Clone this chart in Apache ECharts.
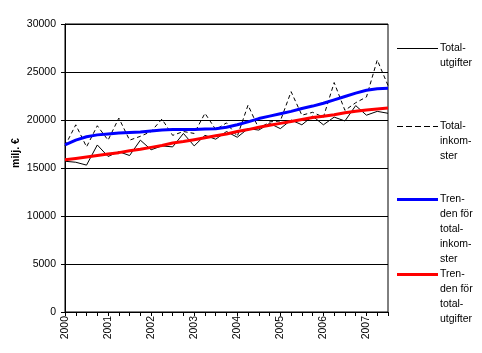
<!DOCTYPE html>
<html>
<head>
<meta charset="utf-8">
<script src="https://cdn.jsdelivr.net/npm/echarts@6/dist/echarts.min.js"></script>
<style>
  html, body { margin: 0; padding: 0; background: #fff; }
  #chart { width: 482px; height: 353px; }
</style>
</head>
<body>
<div id="chart"></div>
<script>
// kvartal 2000Q1 .. 2007Q3
const years = ['2000', '2001', '2002', '2003', '2004', '2005', '2006', '2007'];
const yTicks = [0, 5000, 10000, 15000, 20000, 25000, 30000];

const totalUtgifter = [15700, 15600, 15300, 17400, 16200, 16700, 16300, 17900,
  16900, 17300, 17200, 18600, 17300, 18400, 18000, 18800, 18200, 19100, 18950, 19650,
  19100, 20000, 19500, 20400, 19500, 20300, 19900, 21500, 20500, 20900, 20700];
const totalInkomster = [17300, 19500, 17200, 19400, 17900, 20200, 17900, 18300,
  18800, 20100, 18400, 18800, 18600, 20700, 19000, 19700, 18300, 21550, 19100, 19800,
  19900, 22950, 20500, 20800, 20300, 23900, 21000, 21800, 22400, 26250, 23600];
const trendInkomster = [17400, 17900, 18250, 18450, 18550, 18650, 18700, 18750,
  18850, 18950, 19000, 19000, 19000, 19050, 19100, 19250, 19500, 19800, 20150, 20400,
  20650, 20900, 21200, 21450, 21750, 22100, 22450, 22800, 23100, 23250, 23300];
const trendUtgifter = [15850, 16000, 16150, 16300, 16450, 16600, 16800, 16950,
  17150, 17350, 17600, 17750, 17950, 18150, 18350, 18550, 18800, 19000, 19250, 19450,
  19650, 19850, 20050, 20250, 20400, 20550, 20750, 20900, 21050, 21150, 21250];

const categories = [];
years.forEach(y => {
  for (let q = 1; q <= 4; q++) {
    if (categories.length < totalUtgifter.length) categories.push(y + ' Q' + q);
  }
});

const font = "'Liberation Sans', Arial, sans-serif";

// legend drawn by hand: line + wrapped text, first text line level with the line
const legendItems = [
  { y: 48, text: 'Total-\nutgifter', style: { stroke: '#000', lineWidth: 1 } },
  { y: 126, text: 'Total-\ninkom-\nster', style: { stroke: '#000', lineWidth: 1, lineDash: [6, 3] } },
  { y: 199, text: 'Tren-\nden för\ntotal-\ninkom-\nster', style: { stroke: '#0000ff', lineWidth: 3 } },
  { y: 274, text: 'Tren-\nden för\ntotal-\nutgifter', style: { stroke: '#ff0000', lineWidth: 3 } }
];
const graphics = [];
legendItems.forEach(it => {
  graphics.push({
    type: 'line', silent: true,
    shape: { x1: 397, y1: it.y + 0.5, x2: 438, y2: it.y + 0.5 },
    style: it.style
  });
  graphics.push({
    type: 'text', silent: true, x: 440, y: it.y - 7.5,
    style: { text: it.text, font: '10.5px ' + font, fill: '#000', lineHeight: 15, verticalAlign: 'top' }
  });
});
graphics.push({
  type: 'text', silent: true, x: 16, y: 153, rotation: Math.PI / 2,
  style: { text: 'milj. €', font: 'bold 10.5px ' + font, fill: '#000', align: 'center', verticalAlign: 'middle' }
});

const option = {
  animation: false,
  backgroundColor: '#fff',
  textStyle: { fontFamily: font },
  grid: {
    left: 65, top: 24, width: 323, height: 288,
    show: true, borderColor: '#000', borderWidth: 1
  },
  xAxis: {
    type: 'category',
    data: categories,
    boundaryGap: false,
    axisLine: { lineStyle: { color: '#000', width: 1 } },
    axisTick: { interval: 0, length: 4, lineStyle: { color: '#000' } },
    axisLabel: {
      interval: (i) => i % 4 === 0,
      formatter: (v) => v.slice(0, 4),
      rotate: 90,
      margin: 4,
      fontSize: 10.5,
      color: '#000',
      fontFamily: font
    },
    splitLine: { show: false }
  },
  yAxis: {
    type: 'value',
    min: yTicks[0],
    max: yTicks[yTicks.length - 1],
    interval: 5000,
    axisLine: { show: true, lineStyle: { color: '#000', width: 1 } },
    axisTick: { show: true, length: 4, lineStyle: { color: '#000' } },
    axisLabel: {
      margin: 9, fontSize: 10.5, color: '#000', fontFamily: font,
      formatter: (v) => String(v)
    },
    splitLine: { show: true, lineStyle: { color: '#000', width: 1 } }
  },
  series: [
    {
      name: 'Total-utgifter', type: 'line', data: totalUtgifter, symbol: 'none',
      lineStyle: { color: '#000', width: 1 }
    },
    {
      name: 'Total-inkomster', type: 'line', data: totalInkomster, symbol: 'none',
      lineStyle: { color: '#000', width: 1, type: [4, 3] }
    },
    {
      name: 'Trenden för totalinkomster', type: 'line', data: trendInkomster, symbol: 'none',
      lineStyle: { color: '#0000ff', width: 3 }
    },
    {
      name: 'Trenden för totalutgifter', type: 'line', data: trendUtgifter, symbol: 'none',
      lineStyle: { color: '#ff0000', width: 3 }
    }
  ],
  graphic: graphics
};

const myChart = echarts.init(document.getElementById('chart'), null, { renderer: 'canvas' });
myChart.setOption(option);
</script>
</body>
</html>
